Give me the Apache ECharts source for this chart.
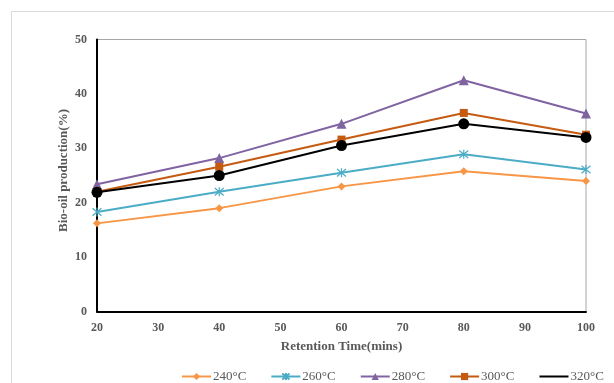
<!DOCTYPE html>
<html><head><meta charset="utf-8">
<script src="https://cdn.jsdelivr.net/npm/echarts@6/dist/echarts.min.js"></script>
<style>html,body{margin:0;padding:0;background:#fff}#c{width:614px;height:383px}</style>
</head><body><div id="c"></div>
<script>
const times = [20, 40, 60, 80, 100];
const s240 = [16.2, 19.0, 23.0, 25.8, 24.0];
const s260 = [18.3, 22.0, 25.5, 28.9, 26.1];
const s280 = [23.4, 28.2, 34.5, 42.5, 36.4];
const s300 = [22.0, 26.6, 31.6, 36.5, 32.5];
const s320 = [21.9, 25.0, 30.5, 34.5, 32.0];
const names = ['240°C', '260°C', '280°C', '300°C', '320°C'];
const yTicks = [0, 10, 20, 30, 40, 50];
const xTicks = [20, 30, 40, 50, 60, 70, 80, 90, 100];

const pair = arr => times.map((t, i) => [t, arr[i]]);
const serif = '"Liberation Serif", "Times New Roman", serif';
const star = 'path://M0,0L10,10M10,0L0,10M5,-1L5,11';

function mk(name, data, color, symbol, size, extra) {
  return Object.assign({
    name, type: 'line', data: pair(data), symbol, symbolSize: size,
    lineStyle: { color, width: 2 },
    itemStyle: { color, borderColor: color, borderWidth: 0 },
    z: 3
  }, extra || {});
}

const chart = echarts.init(document.getElementById('c'), null, { renderer: 'canvas' });
chart.setOption({
  animation: false,
  graphic: [{ type: 'rect', shape: { x: 11.5, y: 11.5, width: 700, height: 500 },
    style: { fill: 'none', stroke: '#d9d9d9', lineWidth: 1 }, z: -10 }],
  grid: { left: 97, right: 28, top: 39.5, bottom: 71.5, show: true, borderColor: '#a6a6a6', borderWidth: 1 },
  legend: {
    left: 176, top: 365, itemWidth: 29, itemHeight: 9, itemGap: 24,
    textStyle: { fontFamily: serif, fontSize: 13, color: '#595959', padding: [0, 0, 0, -3] },
    data: names.slice(0, 4).map(n => ({ name: n })).concat([{ name: names[4], itemStyle: { opacity: 0 } }])
  },
  xAxis: {
    type: 'value', min: xTicks[0], max: xTicks[xTicks.length - 1], interval: 10,
    name: 'Retention Time(mins)', nameLocation: 'middle', nameGap: 29, nameMoveOverlap: false,
    nameTextStyle: { fontFamily: serif, fontWeight: 'bold', fontSize: 13, color: '#595959' },
    axisLine: { lineStyle: { color: '#000', width: 2 } },
    axisTick: { show: false }, splitLine: { show: false },
    axisLabel: { fontFamily: serif, fontWeight: 'bold', fontSize: 12, color: '#595959', margin: 10 }
  },
  yAxis: {
    type: 'value', min: yTicks[0], max: yTicks[yTicks.length - 1], interval: 10,
    name: 'Bio-oil production(%)', nameLocation: 'middle', nameGap: 27, nameMoveOverlap: false,
    nameTextStyle: { fontFamily: serif, fontWeight: 'bold', fontSize: 13, color: '#595959', padding: [0, 0, 0, 10] },
    axisLine: { show: true, lineStyle: { color: '#000', width: 2 } },
    axisTick: { show: false }, splitLine: { show: false },
    axisLabel: { fontFamily: serif, fontWeight: 'bold', fontSize: 12, color: '#595959', margin: 10 }
  },
  series: [
    mk(names[0], s240, '#F79646', 'diamond', 8),
    mk(names[1], s260, '#4BACC6', star, 9, { itemStyle: { color: '#4BACC6', borderColor: '#4BACC6', borderWidth: 1.2 } }),
    mk(names[2], s280, '#8064A2', 'triangle', 10),
    mk(names[3], s300, '#C55A11', 'rect', 8),
    mk(names[4], s320, '#000000', 'circle', 11)
  ]
});
</script></body></html>
